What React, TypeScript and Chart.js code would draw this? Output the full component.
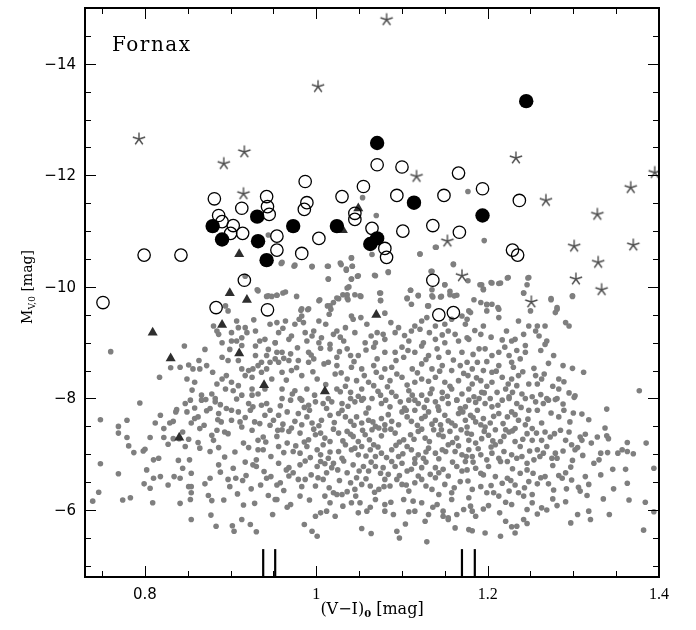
import React, { useEffect, useRef } from 'react';
import { Chart, registerables } from 'chart.js';
Chart.register(...registerables);

// ---- axis ranges & ticks ----
const X_MIN = 0.73;
const X_MAX = 1.4;
const Y_MIN = -15;
const Y_MAX = -4.8;
const xMajorTicks = [0.8, 1.0, 1.2, 1.4];
const xTickLabels = ['0.8', '1', '1.2', '1.4'];
const xMinorTicks = [0.75, 0.85, 0.9, 0.95, 1.05, 1.1, 1.15, 1.25, 1.3, 1.35];
const yMajorTicks = [-14, -12, -10, -8, -6];
const yTickLabels = ['\u221214', '\u221212', '\u221210', '\u22128', '\u22126'];
const yMinorTicks = [-14.5, -13.5, -13, -12.5, -11.5, -11, -10.5, -9.5, -9, -8.5, -7.5, -7, -6.5, -5.5, -5];
const panelLabel = 'Fornax';
const xTitle = ['(V\u2212I)', '0', ' [mag]'];
const yTitle = ['M', 'V,0', ' [mag]'];

// ---- colour-peak markers (V-I) ----
const peakColors = [0.938, 0.952, 1.17, 1.185];
const peakMagTop = -5.3;

// ---- bright objects ----
const stars = [[0.793,-12.65],[0.892,-12.21],[0.916,-12.42],[0.915,-11.67],[1.002,-13.59],[1.082,-14.79],[1.117,-11.98],[1.233,-12.31],[1.268,-11.55],[1.395,-12.05],[1.367,-11.78],[1.328,-11.30],[1.301,-10.73],[1.370,-10.75],[1.329,-10.44],[1.303,-10.14],[1.333,-9.95],[1.153,-10.82],[1.170,-10.20],[1.251,-9.73]];
const openCircles = [[0.751,-9.72],[0.799,-10.57],[0.842,-10.57],[0.881,-11.58],[0.886,-11.28],[0.890,-11.17],[0.903,-11.10],[0.900,-10.96],[0.914,-10.96],[0.913,-11.41],[0.942,-11.62],[0.943,-11.44],[0.945,-11.30],[0.954,-10.91],[0.954,-10.66],[0.987,-11.89],[0.989,-11.51],[0.986,-11.39],[0.983,-10.60],[1.003,-10.87],[1.030,-11.62],[0.916,-10.12],[0.883,-9.63],[0.943,-9.59],[1.055,-11.80],[1.071,-12.19],[1.100,-12.15],[1.166,-12.04],[1.194,-11.76],[1.237,-11.55],[1.094,-11.64],[1.149,-11.64],[1.045,-11.32],[1.045,-11.21],[1.065,-11.05],[1.101,-11.00],[1.136,-11.10],[1.167,-10.98],[1.080,-10.69],[1.082,-10.53],[1.229,-10.66],[1.235,-10.57],[1.136,-10.12],[1.143,-9.50],[1.160,-9.54]];
const filledCircles = [[0.879,-11.09],[0.890,-10.85],[0.931,-11.26],[0.932,-10.82],[0.942,-10.48],[0.973,-11.09],[1.024,-11.09],[1.245,-13.33],[1.071,-12.58],[1.114,-11.51],[1.194,-11.28],[1.071,-10.87],[1.063,-10.77]];
const triangles = [[0.910,-10.59],[0.899,-9.89],[0.919,-9.77],[1.031,-11.02],[1.049,-11.41],[1.070,-9.50],[0.809,-9.18],[0.890,-9.32],[0.830,-8.72],[0.910,-8.81],[0.939,-8.24],[1.010,-8.13],[0.840,-7.30]];

// ---- faint cluster candidates (grey dots), grouped by region ----
const dotsUpperLeft = [[0.760,-8.84],[0.846,-8.94],[0.817,-8.38],[0.830,-8.55],[0.841,-8.56],[0.851,-8.60],[0.856,-8.53],[0.863,-8.68],[0.864,-8.53],[0.870,-8.88],[0.872,-8.59],[0.879,-8.47],[0.849,-8.35],[0.858,-8.29],[0.855,-8.15],[0.866,-8.06],[0.878,-8.08],[0.884,-8.26],[0.890,-8.35],[0.895,-8.41],[0.901,-8.29],[0.894,-8.17],[0.903,-8.14],[0.909,-8.23],[0.882,-8.00],[0.913,-8.06],[0.917,-8.41],[0.913,-8.53],[0.921,-8.50],[0.925,-8.38],[0.926,-8.53],[0.932,-8.59],[0.936,-8.47],[0.942,-8.53],[0.946,-8.65],[0.952,-8.71],[0.948,-8.35],[0.940,-8.17],[0.932,-8.08],[0.925,-8.06],[0.925,-8.17],[0.890,-8.74],[0.897,-8.68],[0.909,-8.68],[0.890,-9.00],[0.901,-9.03],[0.907,-9.03],[0.913,-9.09],[0.919,-9.18],[0.917,-9.27],[0.929,-9.21],[0.934,-9.03],[0.940,-9.06],[0.944,-8.88],[0.942,-8.77],[0.929,-8.77],[0.929,-8.94],[0.936,-8.65],[0.954,-8.83],[0.952,-9.00],[0.946,-9.33],[0.954,-9.36],[0.942,-9.83],[0.948,-9.83],[0.954,-9.85],[0.932,-9.93],[0.927,-9.41],[0.880,-9.30],[0.884,-9.21],[0.886,-9.15],[0.897,-9.57],[0.894,-9.66],[0.907,-9.39],[0.909,-9.27],[0.917,-10.19],[0.913,-8.95],[0.899,-8.88],[0.901,-9.18]];
const dotsUpperMid = [[1.139,-10.71],[1.121,-10.59],[0.959,-10.42],[0.975,-10.39],[0.995,-10.36],[1.013,-10.37],[1.029,-10.40],[1.035,-10.32],[1.042,-10.37],[1.041,-10.52],[1.065,-10.58],[1.068,-10.21],[1.084,-10.26],[1.048,-10.19],[1.041,-10.14],[1.014,-10.14],[1.134,-10.28],[1.160,-10.40],[1.150,-10.04],
[0.954,-9.85],[0.964,-9.91],[0.977,-9.83],[1.003,-9.75],[1.013,-9.66],[1.020,-9.72],[1.026,-9.79],[1.036,-9.86],[1.038,-10.00],[1.045,-9.86],[1.052,-9.83],[1.037,-9.77],[1.074,-9.89],[1.075,-9.76],[1.110,-9.94],[1.119,-9.85],[1.106,-9.79],[1.135,-9.95],[1.136,-9.82],[1.146,-9.83],[1.156,-9.92],[1.164,-9.85],[1.130,-9.66],[1.111,-9.69],[1.170,-9.48],[1.178,-9.57],
[0.982,-9.58],[0.991,-9.61],[0.983,-9.48],[0.985,-9.36],[0.964,-9.39],[0.975,-9.33],[1.003,-9.39],[1.017,-9.60],[1.015,-9.51],[1.041,-9.48],[1.043,-9.42],[1.034,-9.27],[1.059,-9.33],[1.080,-9.53],[1.071,-9.18],[1.078,-9.15],[1.092,-9.18],[1.096,-9.27],[1.111,-9.21],[1.115,-9.30],[1.123,-9.39],[1.129,-9.45],[1.132,-9.18],[1.139,-9.30],[1.150,-9.33],[1.154,-9.21],[1.162,-9.15],[1.174,-9.33],[1.176,-9.09],
[0.956,-9.18],[0.971,-9.12],[0.987,-9.18],[0.997,-9.21],[1.006,-9.09],[1.020,-9.15],[1.024,-9.21],[1.045,-9.18],[0.952,-9.00],[0.968,-9.06],[0.989,-9.03],[1.003,-9.00],[1.016,-8.97],[1.032,-9.03],[1.057,-9.00],[1.069,-9.00],[1.080,-9.06],[1.108,-9.03],[1.125,-9.00],[1.139,-9.06],[1.150,-9.00],[1.166,-9.03],
[0.960,-8.83],[0.970,-8.80],[0.991,-8.83],[1.005,-8.90],[1.016,-8.89],[1.024,-8.74],[1.036,-8.89],[1.040,-8.77],[1.049,-8.77],[1.067,-8.92],[1.080,-8.83],[1.092,-8.83],[1.100,-8.92],[1.102,-8.74],[1.115,-8.83],[1.123,-8.94],[1.131,-8.77],[1.143,-8.74],[1.154,-8.83],[1.170,-8.83],[1.176,-8.65],
[0.956,-8.65],[0.968,-8.68],[0.979,-8.68],[0.991,-8.65],[0.997,-8.71],[1.014,-8.65],[1.024,-8.59],[1.041,-8.56],[1.053,-8.53],[1.067,-8.59],[1.080,-8.53],[1.088,-8.56],[1.112,-8.53],[1.123,-8.62],[1.135,-8.53],[1.147,-8.59],[1.158,-8.50],[1.168,-8.59],
[0.960,-8.47],[0.971,-8.50],[0.983,-8.41],[1.001,-8.35],[1.022,-8.44],[1.036,-8.35],[1.047,-8.32],[1.061,-8.29],[1.076,-8.38],[1.086,-8.32],[1.100,-8.38],[1.115,-8.29],[1.123,-8.35],[1.139,-8.38],[1.150,-8.29],[1.166,-8.32],[1.177,-8.41],
[0.960,-8.17],[0.975,-8.14],[0.989,-8.17],[1.024,-8.17],[1.040,-8.11],[1.053,-8.17],[1.067,-8.23],[1.075,-8.06],[1.088,-8.11],[1.108,-8.14],[1.123,-8.06],[1.135,-8.17],[1.147,-8.11],[1.158,-8.17],[1.170,-8.08],[0.981,-8.00],[1.014,-8.00],[1.055,-8.00],[1.115,-7.97],[1.164,-7.97]];
const dotsUpperRight = [[1.224,-10.17],[1.213,-10.06],[1.204,-10.08],[1.193,-10.04],[1.195,-9.95],[1.248,-10.17],[1.246,-10.04],[1.242,-9.89],[1.250,-9.57],[1.274,-9.77],[1.281,-9.60],[1.279,-9.54],[1.299,-9.83],[1.291,-9.36],[1.295,-9.30],[1.184,-9.77],[1.192,-9.72],[1.199,-9.69],[1.205,-9.69],[1.213,-9.60],[1.213,-9.45],[1.199,-9.57],[1.180,-9.54],[1.176,-9.42],[1.195,-9.30],[1.248,-9.30],[1.258,-9.30],[1.267,-9.30],[1.256,-9.21],[1.242,-9.15],[1.232,-9.06],[1.228,-9.03],[1.217,-9.05],[1.269,-9.03],[1.267,-8.97],[1.192,-9.15],[1.178,-9.06],[1.190,-8.89],[1.197,-8.89],[1.205,-8.77],[1.213,-8.83],[1.225,-8.77],[1.234,-8.86],[1.244,-8.95],[1.244,-8.83],[1.277,-8.77],[1.228,-8.65],[1.230,-8.56],[1.213,-8.59],[1.188,-8.65],[1.182,-8.53],[1.195,-8.50],[1.205,-8.47],[1.254,-8.54],[1.256,-8.41],[1.263,-8.35],[1.258,-8.26],[1.248,-8.26],[1.236,-8.41],[1.228,-8.35],[1.217,-8.38],[1.205,-8.29],[1.192,-8.32],[1.182,-8.26],[1.178,-8.17],[1.193,-8.11],[1.211,-8.11],[1.221,-8.17],[1.234,-8.23],[1.240,-8.08],[1.252,-8.03],[1.269,-8.00],[1.281,-8.00],[1.283,-8.17],[1.283,-8.35],[1.295,-8.10],[1.288,-8.59],[1.299,-8.54],[1.377,-8.14],[1.184,-8.03],[1.203,-8.00],[1.225,-8.03]];
const dotsBright = [[1.054,-11.60],[1.070,-11.28],[1.177,-11.71],[1.196,-10.83],[1.121,-10.59],[1.140,-10.71],[1.160,-10.41],[1.041,-10.52],[1.042,-10.37],[1.035,-10.30],[1.049,-10.20],[1.041,-10.14],[1.069,-10.20],[1.084,-10.27],[1.135,-10.28],[1.150,-10.04],[1.177,-10.11],[1.191,-10.04],[1.205,-10.07],[1.215,-10.07],[1.223,-10.16],[1.247,-10.16],[1.075,-9.89],[1.110,-9.94],[1.119,-9.84],[1.135,-9.84],[1.145,-9.82],[1.156,-9.86],[1.161,-9.84],[1.195,-9.96],[1.242,-9.89],[1.274,-9.79],[1.299,-9.84],[1.281,-9.63],[1.106,-9.80],[1.131,-9.66],[1.212,-9.63],[1.199,-9.68],[1.051,-9.84],[1.036,-9.80],[1.075,-9.75],[0.960,-10.44],[0.974,-10.37],[0.995,-10.37],[1.014,-10.37],[1.028,-10.43],[1.014,-10.14],[0.944,-10.93],[0.944,-9.84],[0.931,-9.95],[0.961,-9.89],[0.983,-9.61],[0.990,-9.59],[1.004,-9.77],[1.016,-9.66],[1.024,-9.80],[1.031,-9.86],[1.036,-9.98]];
const dotsLowerLeft = [[0.794,-7.92],[0.748,-7.62],[0.769,-7.50],[0.779,-7.61],[0.769,-7.38],[0.779,-7.30],[0.781,-7.15],[0.787,-7.03],[0.798,-7.06],[0.800,-7.09],[0.806,-7.30],[0.812,-7.56],[0.818,-7.70],[0.822,-7.46],[0.822,-7.30],[0.829,-7.56],[0.833,-7.59],[0.836,-7.76],[0.837,-7.80],[0.847,-7.91],[0.853,-7.97],[0.849,-7.76],[0.854,-7.56],[0.858,-7.64],[0.862,-7.67],[0.864,-7.46],[0.866,-7.97],[0.872,-7.78],[0.876,-7.82],[0.878,-7.34],[0.880,-7.25],[0.884,-7.43],[0.882,-7.94],[0.886,-7.73],[0.888,-7.89],[0.889,-7.58],[0.893,-7.40],[0.895,-7.82],[0.897,-7.37],[0.901,-7.79],[0.901,-7.61],[0.907,-7.99],[0.909,-7.76],[0.911,-7.58],[0.913,-7.49],[0.915,-7.20],[0.921,-7.91],[0.923,-7.79],[0.925,-7.43],[0.926,-7.85],[0.928,-7.58],[0.932,-7.25],[0.934,-7.55],[0.938,-7.31],[0.940,-7.70],[0.942,-7.91],[0.946,-7.79],[0.950,-7.61],[0.955,-7.43],[0.932,-7.08],[0.938,-7.08],[0.930,-6.90],[0.926,-6.81],[0.930,-6.78],[0.939,-6.69],[0.942,-6.57],[0.947,-6.60],[0.954,-6.45],[0.947,-6.96],[0.924,-6.38],[0.914,-6.53],[0.906,-6.57],[0.899,-6.42],[0.908,-6.29],[0.915,-6.09],[0.913,-5.83],[0.902,-5.72],[0.904,-5.62],[0.923,-5.74],[0.930,-5.61],[0.949,-5.92],[0.952,-6.19],[0.888,-6.68],[0.886,-6.81],[0.876,-6.57],[0.870,-6.47],[0.874,-6.26],[0.878,-6.17],[0.877,-5.91],[0.883,-5.71],[0.864,-7.11],[0.852,-6.90],[0.854,-6.66],[0.844,-6.75],[0.841,-6.57],[0.834,-6.60],[0.839,-6.89],[0.851,-6.42],[0.854,-6.42],[0.854,-6.31],[0.853,-6.19],[0.841,-6.12],[0.854,-5.83],[0.847,-7.14],[0.851,-7.27],[0.840,-7.28],[0.833,-7.28],[0.827,-6.45],[0.818,-6.60],[0.810,-6.57],[0.806,-6.39],[0.802,-6.72],[0.810,-6.90],[0.799,-6.47],[0.809,-6.13],[0.783,-6.22],[0.774,-6.18],[0.769,-6.65],[0.748,-6.83],[0.746,-6.32],[0.739,-6.16]];
const dotsLowerMid = [[0.960,-8.00],[0.970,-7.97],[0.983,-7.97],[0.991,-7.88],[0.999,-7.94],[1.008,-7.91],[1.018,-7.94],[1.030,-7.91],[1.040,-8.00],[1.045,-7.94],[1.053,-7.97],[1.065,-8.00],[1.076,-7.91],[1.086,-7.85],[1.098,-7.94],[1.108,-7.97],[1.119,-7.91],[1.129,-7.97],[1.139,-7.94],[1.147,-8.00],[1.154,-7.91],[1.164,-7.97],[1.174,-7.85],
[0.956,-7.70],[0.966,-7.76],[0.975,-7.59],[0.983,-7.53],[0.989,-7.67],[0.995,-7.56],[1.006,-7.61],[1.016,-7.70],[1.026,-7.73],[1.034,-7.67],[1.040,-7.59],[1.047,-7.67],[1.053,-7.56],[1.061,-7.61],[1.069,-7.50],[1.076,-7.64],[1.080,-7.53],[1.088,-7.59],[1.100,-7.76],[1.106,-7.67],[1.111,-7.59],[1.115,-7.79],[1.123,-7.64],[1.131,-7.76],[1.139,-7.61],[1.145,-7.53],[1.150,-7.70],[1.158,-7.56],[1.166,-7.73],[1.174,-7.61],
[0.960,-7.44],[0.971,-7.47],[0.981,-7.38],[0.991,-7.26],[0.999,-7.35],[1.010,-7.29],[1.016,-7.23],[1.026,-7.38],[1.036,-7.41],[1.043,-7.32],[1.049,-7.23],[1.057,-7.35],[1.065,-7.44],[1.073,-7.47],[1.080,-7.44],[1.092,-7.38],[1.102,-7.26],[1.110,-7.35],[1.119,-7.41],[1.127,-7.29],[1.137,-7.44],[1.143,-7.35],[1.148,-7.32],[1.156,-7.41],[1.164,-7.29],[1.176,-7.38],
[0.956,-7.14],[0.966,-7.20],[0.973,-7.05],[0.981,-7.02],[0.989,-7.14],[1.001,-7.08],[1.005,-6.99],[1.014,-6.93],[1.020,-6.84],[1.026,-7.05],[1.034,-7.17],[1.041,-7.08],[1.049,-6.99],[1.053,-7.14],[1.063,-7.08],[1.067,-7.17],[1.069,-6.96],[1.076,-7.02],[1.088,-7.08],[1.096,-6.96],[1.106,-7.14],[1.111,-7.08],[1.119,-6.99],[1.125,-6.93],[1.131,-7.11],[1.139,-7.02],[1.147,-7.08],[1.154,-7.17],[1.162,-7.05],[1.170,-6.99],[1.178,-7.08],
[0.956,-6.84],[0.968,-6.76],[0.973,-6.67],[0.981,-6.81],[1.001,-6.78],[1.005,-6.87],[1.012,-6.67],[1.018,-6.76],[1.036,-6.67],[1.043,-6.81],[1.047,-6.58],[1.055,-6.78],[1.061,-6.70],[1.069,-6.78],[1.078,-6.76],[1.084,-6.64],[1.092,-6.78],[1.100,-6.84],[1.106,-6.70],[1.115,-6.84],[1.119,-6.61],[1.123,-6.76],[1.133,-6.64],[1.139,-6.76],[1.148,-6.73],[1.154,-6.61],[1.164,-6.78],[1.174,-6.87],
[0.958,-6.49],[0.968,-6.61],[0.979,-6.55],[0.987,-6.55],[0.999,-6.43],[1.008,-6.55],[1.020,-6.31],[1.030,-6.28],[1.040,-6.49],[1.045,-6.37],[1.053,-6.46],[1.063,-6.43],[1.073,-6.37],[1.080,-6.55],[1.086,-6.43],[1.100,-6.46],[1.108,-6.34],[1.115,-6.49],[1.123,-6.55],[1.135,-6.37],[1.143,-6.28],[1.150,-6.46],[1.158,-6.31],[1.168,-6.51],
[0.954,-6.19],[0.970,-6.10],[0.981,-6.25],[1.010,-6.25],[1.016,-6.13],[1.024,-6.28],[1.041,-6.13],[1.051,-6.13],[1.059,-5.98],[1.069,-6.19],[1.080,-6.10],[1.090,-5.92],[1.102,-6.19],[1.113,-6.16],[1.123,-6.13],[1.131,-5.92],[1.141,-6.10],[1.148,-5.98],[1.154,-5.86],[1.164,-5.92],[1.172,-6.01],
[0.999,-5.89],[1.005,-5.95],[1.012,-5.98],[1.022,-5.89],[1.049,-5.95],[1.080,-5.98],[1.104,-5.75],[1.115,-5.98],[1.127,-5.80],[1.148,-5.89],[1.162,-5.68],[1.178,-5.65],[0.986,-5.74],[0.995,-5.62],[1.001,-5.53],[1.053,-5.67],[1.064,-5.58],[1.094,-5.62],[1.097,-5.50],[1.129,-5.43],[1.154,-5.83]];
const dotsLowerRight = [[1.178,-7.97],[1.190,-8.00],[1.197,-7.91],[1.205,-7.85],[1.217,-7.97],[1.225,-8.00],[1.234,-7.91],[1.244,-8.00],[1.256,-7.94],[1.265,-7.91],[1.271,-7.97],[1.279,-7.98],[1.180,-7.70],[1.188,-7.79],[1.195,-7.64],[1.203,-7.56],[1.213,-7.73],[1.223,-7.67],[1.228,-7.76],[1.236,-7.61],[1.248,-7.79],[1.258,-7.79],[1.244,-7.53],[1.252,-7.46],[1.232,-7.46],[1.221,-7.44],[1.209,-7.44],[1.197,-7.49],[1.186,-7.58],[1.176,-7.49],[1.283,-7.67],[1.289,-7.79],[1.300,-7.74],[1.310,-7.72],[1.339,-7.81],
[1.178,-7.25],[1.186,-7.20],[1.193,-7.28],[1.201,-7.34],[1.209,-7.17],[1.215,-7.23],[1.225,-7.40],[1.232,-7.23],[1.238,-7.14],[1.246,-7.37],[1.252,-7.25],[1.258,-7.08],[1.263,-7.25],[1.267,-7.40],[1.273,-7.31],[1.269,-7.14],[1.279,-7.02],[1.285,-7.43],[1.291,-7.25],[1.298,-7.17],[1.302,-7.08],[1.308,-7.31],[1.310,-7.25],[1.314,-7.36],[1.328,-7.31],[1.339,-7.33],[1.341,-7.28],[1.332,-7.02],[1.330,-6.90],[1.340,-7.03],[1.357,-7.08],[1.363,-7.05],[1.370,-7.01],[1.363,-7.21],[1.385,-7.20],
[1.182,-6.96],[1.192,-6.99],[1.199,-6.90],[1.205,-7.02],[1.213,-6.93],[1.223,-6.87],[1.228,-6.99],[1.240,-6.96],[1.246,-6.84],[1.254,-6.90],[1.265,-7.02],[1.275,-6.93],[1.281,-6.93],
[1.176,-6.72],[1.186,-6.75],[1.195,-6.63],[1.201,-6.78],[1.209,-6.60],[1.217,-6.48],[1.223,-6.57],[1.232,-6.45],[1.238,-6.66],[1.246,-6.72],[1.248,-6.51],[1.258,-6.47],[1.267,-6.60],[1.271,-6.47],[1.287,-6.57],[1.291,-6.67],[1.297,-6.77],[1.298,-6.54],[1.306,-6.41],[1.314,-6.60],[1.308,-6.34],[1.316,-6.26],[1.332,-6.63],[1.361,-6.73],[1.363,-6.48],[1.347,-6.38],[1.394,-6.75],
[1.182,-6.37],[1.192,-6.42],[1.199,-6.31],[1.207,-6.31],[1.213,-6.25],[1.225,-6.34],[1.236,-6.31],[1.242,-6.25],[1.252,-6.28],[1.252,-6.13],
[1.180,-6.07],[1.182,-5.98],[1.186,-5.89],[1.201,-6.08],[1.221,-6.14],[1.228,-6.10],[1.246,-6.01],[1.263,-6.04],[1.269,-6.00],[1.281,-6.08],[1.291,-6.15],[1.365,-6.18],[1.384,-6.14],[1.394,-5.97],[1.342,-5.92],[1.320,-5.83],[1.305,-5.92],[1.297,-5.77],[1.246,-5.76],[1.242,-5.83],[1.234,-5.71],[1.228,-5.70],[1.221,-5.80],[1.232,-5.59],[1.215,-5.53],[1.197,-5.59],[1.182,-5.63],[1.382,-5.64]];
const dotsDenseCore = [[0.962,-8.72],[0.978,-8.91],[0.994,-8.78],[1.009,-8.62],[1.027,-8.84],[1.044,-8.66],[1.058,-8.87],[1.071,-8.71],[1.093,-8.68],[1.107,-8.86],[1.128,-8.70],[1.141,-8.89],[1.160,-8.69],[1.183,-8.79],[1.199,-8.66],[1.220,-8.92],[1.238,-8.71],[1.262,-8.86],[1.271,-8.63],
[0.965,-8.33],[0.977,-8.55],[0.996,-8.48],[1.011,-8.25],[1.029,-8.46],[1.034,-8.22],[1.056,-8.41],[1.070,-8.47],[1.083,-8.21],[1.094,-8.44],[1.106,-8.24],[1.118,-8.46],[1.131,-8.31],[1.144,-8.49],[1.156,-8.22],[1.172,-8.45],[1.187,-8.37],[1.199,-8.22],[1.210,-8.49],[1.224,-8.26],[1.241,-8.48],[1.266,-8.44],[1.276,-8.22],
[0.958,-7.87],[0.972,-8.08],[0.986,-7.84],[0.998,-8.06],[1.012,-7.82],[1.028,-8.12],[1.037,-7.86],[1.049,-8.04],[1.061,-7.83],[1.072,-8.13],[1.081,-7.97],[1.093,-8.04],[1.103,-7.83],[1.112,-8.06],[1.126,-7.84],[1.133,-8.09],[1.142,-7.85],[1.153,-8.04],[1.168,-7.82],[1.186,-7.93],[1.196,-8.10],[1.212,-7.88],[1.229,-8.11],[1.239,-7.84],[1.262,-8.07],[1.288,-7.90],[1.302,-8.05],
[0.961,-7.54],[0.979,-7.73],[0.992,-7.79],[1.003,-7.51],[1.021,-7.57],[1.030,-7.79],[1.044,-7.52],[1.058,-7.74],[1.066,-7.58],[1.084,-7.71],[1.096,-7.53],[1.105,-7.79],[1.118,-7.52],[1.127,-7.68],[1.135,-7.54],[1.143,-7.79],[1.154,-7.60],[1.162,-7.51],[1.171,-7.76],[1.183,-7.66],[1.192,-7.53],[1.207,-7.68],[1.218,-7.55],[1.232,-7.71],[1.247,-7.63],[1.263,-7.56],[1.274,-7.74],[1.296,-7.58],[1.318,-7.62],
[0.954,-7.32],[0.968,-7.41],[0.986,-7.22],[0.997,-7.45],[1.005,-7.38],[1.020,-7.45],[1.031,-7.24],[1.040,-7.36],[1.054,-7.43],[1.062,-7.26],[1.076,-7.33],[1.087,-7.45],[1.097,-7.22],[1.114,-7.27],[1.123,-7.45],[1.132,-7.23],[1.146,-7.44],[1.159,-7.21],[1.169,-7.44],[1.181,-7.36],[1.196,-7.41],[1.206,-7.24],[1.219,-7.32],[1.229,-7.42],[1.241,-7.27],[1.257,-7.38],[1.278,-7.37],[1.295,-7.40],[1.321,-7.20],
[0.962,-7.03],[0.976,-7.15],[0.993,-6.94],[1.008,-7.17],[1.016,-7.04],[1.030,-6.93],[1.045,-7.11],[1.058,-6.97],[1.072,-7.13],[1.082,-6.94],[1.093,-7.16],[1.101,-7.01],[1.115,-6.92],[1.128,-7.04],[1.143,-6.92],[1.151,-7.05],[1.166,-7.15],[1.175,-6.96],[1.189,-7.10],[1.204,-7.13],[1.219,-7.05],[1.234,-6.93],[1.249,-7.06],[1.261,-6.96],[1.288,-7.06],[1.311,-6.98],
[0.965,-6.72],[0.987,-6.88],[0.994,-6.63],[1.010,-6.83],[1.025,-6.72],[1.032,-6.88],[1.050,-6.70],[1.064,-6.86],[1.075,-6.66],[1.088,-6.87],[1.097,-6.62],[1.111,-6.73],[1.128,-6.86],[1.143,-6.67],[1.159,-6.86],[1.170,-6.70],[1.183,-6.86],[1.192,-6.66],[1.215,-6.87],[1.229,-6.74],[1.253,-6.66],[1.276,-6.80],[1.283,-6.62],
[0.962,-6.35],[0.983,-6.42],[1.002,-6.58],[1.015,-6.40],[1.027,-6.53],[1.036,-6.33],[1.058,-6.56],[1.068,-6.32],[1.079,-6.42],[1.094,-6.55],[1.105,-6.45],[1.128,-6.43],[1.139,-6.58],[1.161,-6.40],[1.177,-6.52],[1.204,-6.44],[1.227,-6.53],[1.243,-6.40],[1.262,-6.58],[1.277,-6.36],
[0.966,-6.05],[0.992,-6.18],[1.031,-6.07],[1.046,-6.25],[1.063,-6.05],[1.087,-6.14],[1.108,-5.97],[1.136,-6.05],[1.158,-6.19],[1.178,-6.22],[1.195,-6.02],[1.214,-5.95],[1.258,-5.93],[1.276,-6.20],
[0.961,-9.26],[0.980,-9.42],[0.995,-9.12],[1.011,-9.33],[1.028,-9.10],[1.052,-9.45],[1.064,-9.12],[1.087,-9.36],[1.103,-9.13],[1.121,-9.24],[1.147,-9.14],[1.158,-9.42],[1.185,-9.22],[1.204,-9.10],[1.222,-9.21],[1.236,-9.39],[1.260,-9.12]];
const dotsFringe = [[0.862,-7.21],[0.869,-7.52],[0.876,-7.05],[0.886,-7.12],[0.893,-6.95],[0.905,-7.04],[0.917,-6.86],[0.921,-7.12],[0.903,-6.75],[0.897,-6.55],[0.918,-6.62],[0.935,-6.45],[0.944,-6.26],[0.928,-6.12],[0.892,-6.18],[0.941,-7.22],[0.946,-7.52],[0.936,-7.88],[0.917,-7.66],[0.885,-7.62],[0.858,-7.83],[0.871,-7.98],[0.844,-7.40],[0.827,-7.18],[0.816,-6.93],
[1.289,-8.30],[1.301,-8.02],[1.312,-8.47],[1.305,-7.12],[1.324,-6.84],[1.318,-6.46],[1.335,-6.20],[1.292,-6.38],[1.299,-6.89],[1.337,-7.47],[1.346,-6.73],[1.352,-7.02],[1.318,-5.98]];

const greyDots = [...dotsUpperLeft, ...dotsUpperMid, ...dotsUpperRight, ...dotsBright, ...dotsLowerLeft, ...dotsLowerMid, ...dotsLowerRight, ...dotsDenseCore, ...dotsFringe];

const toXY = (arr: number[][]) => arr.map(([x, y]) => ({ x, y }));

function makeStar(): HTMLCanvasElement {
  const c = document.createElement('canvas');
  c.width = 16; c.height = 16;
  const g = c.getContext('2d')!;
  g.strokeStyle = '#4d4d4d';
  g.lineWidth = 1.4;
  g.lineCap = 'butt';
  g.beginPath();
  for (let k = 0; k < 5; k++) {
    const a = -Math.PI / 2 + (k * 2 * Math.PI) / 5;
    g.moveTo(8, 8);
    g.lineTo(8 + 6.5 * Math.cos(a), 8 + 6.5 * Math.sin(a));
  }
  g.stroke();
  return c;
}

const SERIF = '"DejaVu Serif", serif';

const framePlugin = {
  id: 'frameTicks',
  afterDatasetsDraw(chart: any) {
    const { ctx, chartArea: a, scales } = chart;
    const xs = scales.x, ys = scales.y;
    ctx.save();
    ctx.strokeStyle = '#000';
    ctx.lineWidth = 1;
    ctx.beginPath();
    const tickX = (v: number, len: number) => {
      const p = Math.round(xs.getPixelForValue(v)) + 0.5;
      ctx.moveTo(p, a.bottom); ctx.lineTo(p, a.bottom - len);
      ctx.moveTo(p, a.top); ctx.lineTo(p, a.top + len);
    };
    const tickY = (v: number, len: number) => {
      const p = Math.round(ys.getPixelForValue(v)) + 0.5;
      ctx.moveTo(a.left, p); ctx.lineTo(a.left + len, p);
      ctx.moveTo(a.right, p); ctx.lineTo(a.right - len, p);
    };
    xMinorTicks.forEach((v) => tickX(v, 6));
    xMajorTicks.forEach((v) => tickX(v, 11));
    yMinorTicks.forEach((v) => tickY(v, 6));
    yMajorTicks.forEach((v) => tickY(v, 11));
    ctx.stroke();

    ctx.lineWidth = 2;
    ctx.strokeRect(a.left, a.top, a.right - a.left, a.bottom - a.top);

    ctx.fillStyle = '#000';
    // x tick labels
    ctx.textAlign = 'center';
    ctx.textBaseline = 'alphabetic';
    xMajorTicks.forEach((v, i) => {
      ctx.font = i === 0 ? '15px "DejaVu Sans", sans-serif' : '16px "Liberation Serif", serif';
      ctx.fillText(xTickLabels[i], xs.getPixelForValue(v), 599);
    });
    // y tick labels
    ctx.textAlign = 'right';
    ctx.textBaseline = 'middle';
    ctx.font = '15px "DejaVu Sans", sans-serif';
    yMajorTicks.forEach((v, i) => {
      ctx.fillText(yTickLabels[i], 76, ys.getPixelForValue(v) + 1);
    });

    // x title with subscript
    ctx.textAlign = 'left';
    ctx.textBaseline = 'alphabetic';
    const mainX = '16px ' + SERIF, subX = 'bold 10px ' + SERIF;
    ctx.font = mainX; const w1 = ctx.measureText(xTitle[0]).width; const w3 = ctx.measureText(xTitle[2]).width;
    ctx.font = subX; const w2 = ctx.measureText(xTitle[1]).width;
    let sx = 372 - (w1 + w2 + w3) / 2;
    ctx.font = mainX; ctx.fillText(xTitle[0], sx, 614); sx += w1;
    ctx.font = subX; ctx.fillText(xTitle[1], sx, 617); sx += w2;
    ctx.font = mainX; ctx.fillText(xTitle[2], sx, 614);

    // y title (rotated) with subscript
    ctx.save();
    ctx.translate(32, 287);
    ctx.rotate(-Math.PI / 2);
    const mainY = '14px ' + SERIF, subY = '9px ' + SERIF;
    ctx.font = mainY; const v1 = ctx.measureText(yTitle[0]).width; const v3 = ctx.measureText(yTitle[2]).width;
    ctx.font = subY; const v2 = ctx.measureText(yTitle[1]).width;
    let sy = -(v1 + v2 + v3) / 2;
    ctx.font = mainY; ctx.fillText(yTitle[0], sy, 0); sy += v1;
    ctx.font = subY; ctx.fillText(yTitle[1], sy, 3); sy += v2;
    ctx.font = mainY; ctx.fillText(yTitle[2], sy, 0);
    ctx.restore();

    // panel label
    ctx.font = '20px ' + SERIF;
    (ctx as any).letterSpacing = '1.5px';
    ctx.fillText(panelLabel, 112, 51);
    (ctx as any).letterSpacing = '0px';
    ctx.restore();
  },
};

export default function App() {
  const ref = useRef<HTMLCanvasElement>(null);
  useEffect(() => {
    const canvas = ref.current!;
    const star = makeStar();
    const peakSets = peakColors.map((c) => ({
      data: [{ x: c, y: Y_MAX }, { x: c, y: peakMagTop }],
      showLine: true,
      borderColor: '#000',
      borderWidth: 2.2,
      pointRadius: 0,
      order: 0,
      clip: 0,
    }));
    const chart = new Chart(canvas, {
      type: 'scatter',
      data: {
        datasets: [
          { data: toXY(greyDots), pointRadius: 2.8, backgroundColor: '#7f7f7f', borderWidth: 0, order: 10, clip: 0 },
          { data: toXY(triangles), pointStyle: 'triangle', pointRadius: 5.8, backgroundColor: '#2e2e2e', borderWidth: 0, order: 5, clip: 0 },
          { data: toXY(openCircles), pointStyle: 'circle', pointRadius: 6.2, backgroundColor: 'rgba(0,0,0,0)', borderColor: '#000', borderWidth: 1.3, order: 4, clip: 0 },
          { data: toXY(filledCircles), pointStyle: 'circle', pointRadius: 7.2, backgroundColor: '#000', borderWidth: 0, order: 3, clip: 0 },
          { data: toXY(stars), pointStyle: star as any, pointRadius: 7, order: 2, clip: 0 },
          ...peakSets,
        ] as any,
      },
      options: {
        responsive: false,
        maintainAspectRatio: false,
        animation: false,
        events: [],
        layout: { padding: { top: 3, right: 37, left: 0, bottom: 0 } },
        plugins: { legend: { display: false }, tooltip: { enabled: false } },
        scales: {
          x: {
            type: 'linear', min: X_MIN, max: X_MAX,
            grid: { display: false }, border: { display: false },
            ticks: { display: false },
            afterFit: (s: any) => { s.height = 53; },
          },
          y: {
            type: 'linear', min: Y_MIN, max: Y_MAX, reverse: true,
            grid: { display: false }, border: { display: false },
            ticks: { display: false },
            afterFit: (s: any) => { s.width = 85; },
          },
        },
      } as any,
      plugins: [framePlugin],
    });
    return () => chart.destroy();
  }, []);
  return (
    <div style={{ position: 'fixed', left: 0, top: 0, width: 696, height: 630, background: '#fff' }}>
      <canvas ref={ref} width={696} height={630} style={{ width: 696, height: 630, display: 'block' }} />
    </div>
  );
}
